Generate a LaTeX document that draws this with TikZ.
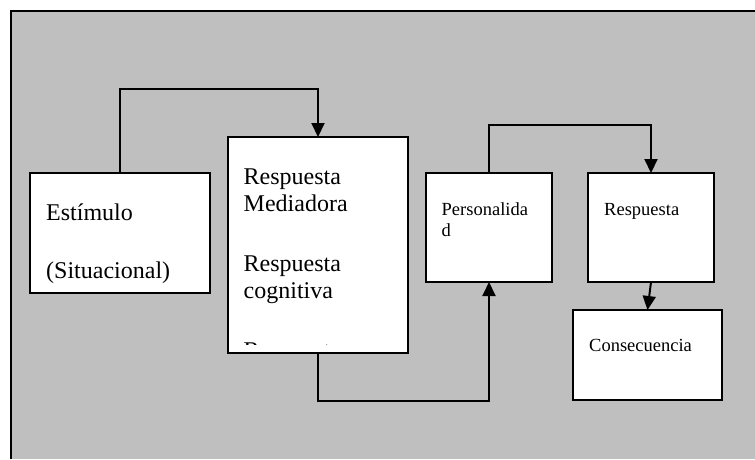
\documentclass[tikz,border=0pt]{standalone}
\usepackage{fontspec}
\setmainfont{Liberation Serif}
\usetikzlibrary{arrows.meta}
\tikzset{
  box/.style={draw=black, fill=white, line width=2pt, anchor=north west, inner sep=0pt, outer sep=0pt},
  big/.style={anchor=base west, inner sep=0pt, font=\fontsize{24}{27}\selectfont},
  small/.style={anchor=base west, inner sep=0pt, font=\fontsize{18.5}{21}\selectfont},
  arr/.style={draw=black, line width=2pt, -{Triangle[width=13pt,length=14pt]}},
}
\begin{document}
\begin{tikzpicture}[x=1pt,y=1pt]
\useasboundingbox (0,0) rectangle (755,-459);
\fill[white] (0,0) rectangle (755,-459);
\fill[black!25] (11,-10.7) rectangle (755,-459);
\draw[line width=2pt] (11,-459) -- (11,-10.7) -- (755,-10.7);
% boxes
\node[box, minimum width=180pt, minimum height=120pt] (est) at (30,-173) {};
\node[box, minimum width=180pt, minimum height=216pt] (med) at (228,-137) {};
\node[box, minimum width=126pt, minimum height=109pt] (pers) at (426,-173) {};
\node[box, minimum width=126pt, minimum height=109pt] (resp) at (588,-173) {};
\node[box, minimum width=149pt, minimum height=90pt] (cons) at (573,-310) {};
% texts
\node[big] (t1) at (46,-220.5) {Estímulo};
\node[big] (t2) at (46,-278.5) {(Situacional)};
\node[big] (t3) at (243.5,-184) {Respuesta};
\node[big] (t4) at (243.5,-211) {Mediadora};
\node[big] (t5) at (243.5,-271) {Respuesta};
\node[big] (t6) at (243.5,-298) {cognitiva};
\begin{scope}
\clip (228,-137) rectangle (408,-344);
\node[big] (t7) at (243.5,-358) {Respuesta};
\end{scope}
\node[small] (t8) at (441.5,-215) {Personalida};
\node[small] (t9) at (441.5,-236.5) {d};
\node[small] (t10) at (604,-215) {Respuesta};
\node[small] (t11) at (589,-351.5) {Consecuencia};
% connectors
\coordinate (c1) at (120,-89.3);
\coordinate (c2) at (318,-89.3);
\draw[arr] (est.north) -- (c1) -- (c2) -- (med.north);
\coordinate (c3) at (318,-401);
\coordinate (c4) at (489,-401);
\draw[arr] (med.south) -- (c3) -- (c4) -- (pers.south);
\coordinate (c5) at (489,-125.3);
\coordinate (c6) at (651,-125.3);
\draw[arr] (pers.north) -- (c5) -- (c6) -- (resp.north);
\draw[arr] (resp.south) -- (cons.north);
\end{tikzpicture}
\end{document}
